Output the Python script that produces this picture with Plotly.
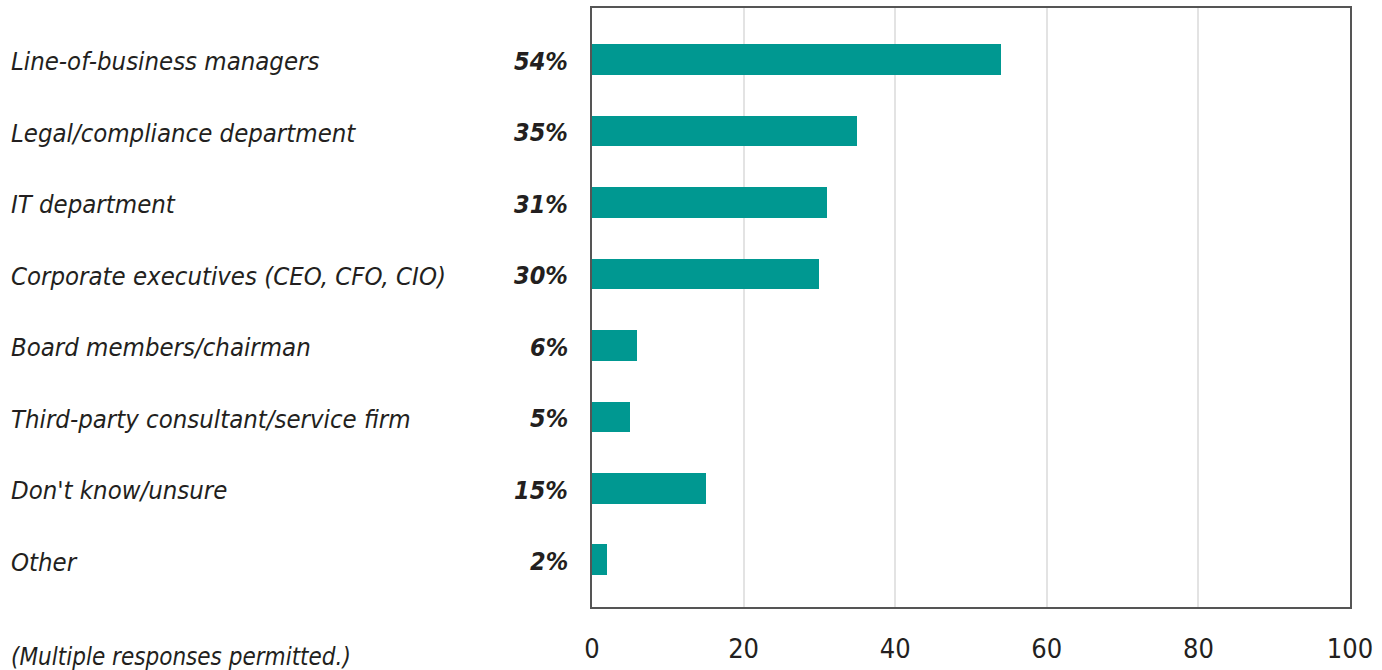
import plotly.graph_objects as go

categories = [
    "Line-of-business managers",
    "Legal/compliance department",
    "IT department",
    "Corporate executives (CEO, CFO, CIO)",
    "Board members/chairman",
    "Third-party consultant/service firm",
    "Don't know/unsure",
    "Other",
]
values = [54, 35, 31, 30, 6, 5, 15, 2]
x_ticks = [0, 20, 40, 60, 80, 100]
footnote = "(Multiple responses permitted.)"

W, H = 1382, 670
L, R, T, B = 592, 32, 6, 63
plot_w = W - L - R

FONT = "DejaVu Sans Condensed"
TEAL = "#009891"
TEXT = "#231f20"

fig = go.Figure(
    go.Bar(
        y=list(range(len(categories))),
        x=values,
        orientation="h",
        marker=dict(color=TEAL, line=dict(width=0)),
        width=0.43,
        hoverinfo="skip",
    )
)

annotations = []
for i, (cat, v) in enumerate(zip(categories, values)):
    annotations.append(dict(
        x=(9 - L) / plot_w, xref="paper", y=i, yref="y", yshift=-2,
        text=f"<i>{cat}</i>", showarrow=False, xanchor="left", yanchor="middle",
        font=dict(family=FONT, size=25.5, color=TEXT),
    ))
    annotations.append(dict(
        x=(570 - L) / plot_w, xref="paper", y=i, yref="y", yshift=-2,
        text=f"<b><i>{v}%</i></b>", showarrow=False, xanchor="right", yanchor="middle",
        font=dict(family=FONT, size=25, color=TEXT),
    ))
annotations.append(dict(
    x=(9 - L) / plot_w, xref="paper", y=0, yref="paper",
    text=f"<i>{footnote}</i>", showarrow=False, xanchor="left", yanchor="middle",
    yshift=-(B - 13),
    font=dict(family=FONT, size=24, color=TEXT),
))

fig.update_layout(
    width=W, height=H,
    margin=dict(l=L, r=R, t=T, b=B),
    plot_bgcolor="white", paper_bgcolor="white",
    showlegend=False,
    bargap=0,
    annotations=annotations,
    xaxis=dict(
        range=[0, 100], tickvals=x_ticks, ticktext=[str(t) for t in x_ticks],
        showgrid=True, gridcolor="#e3e3e3", gridwidth=2,
        zeroline=False, showline=True, linecolor="#555555", linewidth=1.5, mirror=True,
        ticks="", tickfont=dict(family=FONT, size=27, color=TEXT),
        ticklabelstandoff=17,
    ),
    yaxis=dict(
        range=[7.66, -0.72], showticklabels=False, showgrid=False, zeroline=False,
        showline=True, linecolor="#555555", linewidth=1.5, mirror=True, ticks="",
    ),
)

fig.write_html("out.html")
